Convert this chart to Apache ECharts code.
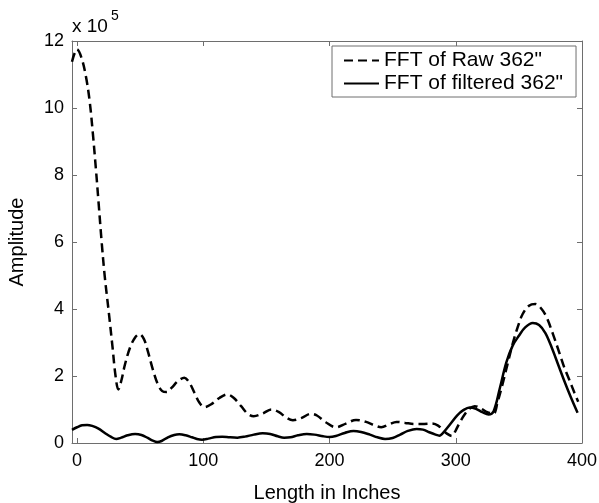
<!DOCTYPE html>
<html>
<head>
<meta charset="utf-8">
<script src="https://cdn.jsdelivr.net/npm/echarts@6/dist/echarts.min.js"></script>
<style>
html,body{margin:0;padding:0;background:#fff;}
#chart{width:599px;height:503px;}
</style>
</head>
<body>
<div id="chart"></div>
<script>
// Amplitudes in units of 10^5
const rawX = [-4,0,3.5,7,10,12.5,15,17,19.5,22,25,28,30.5,32.7,35,38,42,46,49.5,53,56,60,64,67.5,71,75,80,85,89,93,97,101,106,113,119,124,130,135,140,147,154,160,166,171,178,185,190,197,205,213,221,229,236,241,247,253,260,267,275,281,286,290,293,297,300,303,307,311,315,320,325,330,333,337,341,345,349,353,358,363,368,372,377,382,386,390,394,397];
const rawY = [11.38,11.75,11.5,10.95,10.2,9.25,8.15,7.2,6.0,4.95,3.95,2.9,2.0,1.6,1.85,2.35,2.85,3.15,3.25,3.1,2.75,2.2,1.75,1.55,1.52,1.65,1.85,1.95,1.8,1.5,1.2,1.07,1.15,1.35,1.45,1.35,1.1,0.88,0.8,0.88,1.0,0.92,0.75,0.68,0.75,0.87,0.82,0.62,0.47,0.58,0.69,0.63,0.52,0.47,0.55,0.63,0.6,0.57,0.57,0.58,0.52,0.38,0.28,0.21,0.38,0.6,0.85,1.03,1.1,1.03,0.92,0.88,1.2,1.75,2.35,2.95,3.45,3.85,4.1,4.15,4.0,3.75,3.25,2.7,2.25,1.88,1.5,1.23];
const filtX = [-4,0,4,8,12,17,22,27,31,35,40,46,51,56,60,63.5,67,72,77,81,86,91,95,99,104,110,115,121,127,133,140,147,153,159,164,169,175,182,188,195,200,205,212,219,225,232,238,244,250,256,262,269,274,279,284,287,291,296,301,306,311,316,321,326,330,335,340,345,350,355,361,366,371,376,381,386,391,396.5];
const filtY = [0.39,0.47,0.53,0.54,0.51,0.43,0.3,0.18,0.12,0.16,0.23,0.27,0.24,0.15,0.07,0.03,0.06,0.17,0.24,0.26,0.23,0.17,0.12,0.1,0.13,0.18,0.19,0.17,0.16,0.19,0.25,0.29,0.27,0.2,0.16,0.17,0.23,0.27,0.25,0.2,0.18,0.21,0.3,0.36,0.33,0.25,0.17,0.12,0.15,0.25,0.36,0.42,0.4,0.32,0.25,0.22,0.35,0.58,0.82,0.98,1.06,1.02,0.92,0.85,0.95,1.65,2.4,2.9,3.2,3.45,3.58,3.52,3.28,2.85,2.35,1.85,1.38,0.9];
const xTicks = [0,100,200,300,400];
const yTicks = [0,2,4,6,8,10,12];
const seriesNames = ['FFT of Raw 362"', 'FFT of filtered 362"'];
const xLabel = 'Length in Inches';
const yLabel = 'Amplitude';

const zip = (xs, ys) => xs.map((x, i) => [x, ys[i]]);
const FONT = 'Liberation Sans, Arial, sans-serif';
const AX = '#6e6e6e';

const chart = echarts.init(document.getElementById('chart'));
const xBase = {
  type: 'value', min: -4, max: 400,
  axisLine: {show: true, onZero: false, lineStyle: {color: AX, width: 1}},
  axisTick: {show: true, inside: true, length: 5, customValues: xTicks, lineStyle: {color: AX}},
  splitLine: {show: false}
};
const yBase = {
  type: 'value', min: 0, max: 12, interval: 2,
  axisLine: {show: true, onZero: false, lineStyle: {color: AX, width: 1}},
  axisTick: {show: true, inside: true, length: 5, lineStyle: {color: AX}},
  splitLine: {show: false}
};
chart.setOption({
  animation: false,
  backgroundColor: '#fff',
  grid: {left: 72, right: 17, top: 41, bottom: 60, containLabel: false, outerBoundsMode: 'none'},
  xAxis: [
    Object.assign({}, xBase, {
      position: 'bottom',
      name: xLabel, nameLocation: 'middle', nameGap: 40,
      nameTextStyle: {fontFamily: FONT, fontSize: 20, color: '#000'},
      axisLabel: {show: true, customValues: xTicks, margin: 9, fontFamily: FONT, fontSize: 18, color: '#000', showMaxLabel: true, showMinLabel: true}
    }),
    Object.assign({}, xBase, {position: 'top', axisLabel: {show: false}})
  ],
  yAxis: [
    Object.assign({}, yBase, {
      position: 'left',
      name: yLabel, nameLocation: 'middle', nameGap: 45,
      nameTextStyle: {fontFamily: FONT, fontSize: 20, color: '#000'},
      axisLabel: {show: true, margin: 8, fontFamily: FONT, fontSize: 18, color: '#000'}
    }),
    Object.assign({}, yBase, {position: 'right', axisLabel: {show: false}})
  ],
  legend: {
    left: 332, top: 46, orient: 'vertical',
    padding: [4, 13, 3, 11], itemGap: 2,
    itemWidth: 35, itemHeight: 14,
    borderColor: AX, borderWidth: 1, backgroundColor: '#fff',
    itemStyle: {opacity: 0},
    textStyle: {fontFamily: FONT, fontSize: 21, color: '#000'},
    data: seriesNames
  },
  graphic: [
    {type: 'text', left: 72, top: 17, style: {text: 'x 10', font: '19px ' + FONT, fill: '#000'}},
    {type: 'text', left: 111, top: 9, style: {text: '5', font: '14px ' + FONT, fill: '#000'}}
  ],
  series: [
    {name: seriesNames[0], type: 'line', data: zip(rawX, rawY), symbol: 'none', smooth: 0.35,
     lineStyle: {color: '#000', width: 2.5, type: [9, 5]}, itemStyle: {color: '#000'}},
    {name: seriesNames[1], type: 'line', data: zip(filtX, filtY), symbol: 'none', smooth: 0.35,
     lineStyle: {color: '#000', width: 2.5, type: 'solid'}, itemStyle: {color: '#000'}}
  ]
});
</script>
</body>
</html>
